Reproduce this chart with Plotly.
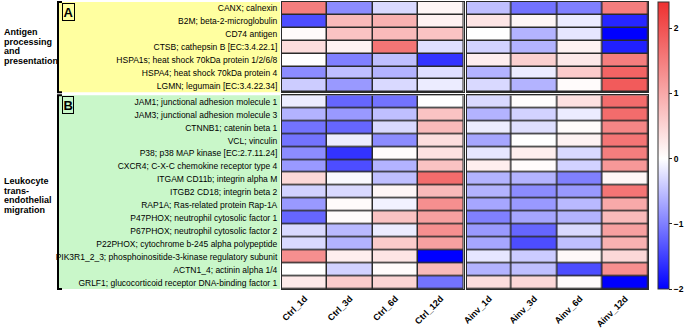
import plotly.graph_objects as go
from plotly.subplots import make_subplots

ctrl_cols = ["Ctrl_1d", "Ctrl_3d", "Ctrl_6d", "Ctrl_12d"]
ainv_cols = ["Ainv_1d", "Ainv_3d", "Ainv_6d", "Ainv_12d"]

genes_a = [
    "CANX; calnexin",
    "B2M; beta-2-microglobulin",
    "CD74 antigen",
    "CTSB; cathepsin B [EC:3.4.22.1]",
    "HSPA1s; heat shock 70kDa protein 1/2/6/8",
    "HSPA4; heat shock 70kDa protein 4",
    "LGMN; legumain [EC:3.4.22.34]",
]
genes_b = [
    "JAM1; junctional adhesion molecule 1",
    "JAM3; junctional adhesion molecule 3",
    "CTNNB1; catenin beta 1",
    "VCL; vinculin",
    "P38; p38 MAP kinase [EC:2.7.11.24]",
    "CXCR4; C-X-C chemokine receptor type 4",
    "ITGAM CD11b; integrin alpha M",
    "ITGB2 CD18; integrin beta 2",
    "RAP1A; Ras-related protein Rap-1A",
    "P47PHOX; neutrophil cytosolic factor 1",
    "P67PHOX; neutrophil cytosolic factor 2",
    "P22PHOX; cytochrome b-245 alpha polypeptide",
    "PIK3R1_2_3; phosphoinositide-3-kinase regulatory subunit",
    "ACTN1_4; actinin alpha 1/4",
    "GRLF1; glucocorticoid receptor DNA-binding factor 1",
]
group_a_lines = ["Antigen", "processing", "and", "presentation"]
group_b_lines = ["Leukocyte", "trans-", "endothelial", "migration"]

ctrl_a = [
    [1.5, -0.9, -0.3, 0.1],
    [-1.4, 0.8, 0.9, 0.15],
    [0.05, 0.7, 0.8, 0.7],
    [0.4, 0.15, 1.6, -0.25],
    [0.0, -1.0, -0.5, -1.6],
    [-0.9, -0.5, -0.6, -0.25],
    [-0.4, -0.8, -0.3, -0.15],
]
ainv_a = [
    [-0.5, -1.1, -1.0, 1.5],
    [0.3, 0.1, -0.15, -1.7],
    [0.0, -0.6, -0.2, -2.0],
    [-0.35, -0.6, 0.15, -1.75],
    [0.2, 0.55, 0.25, 1.5],
    [-0.6, -0.15, 0.6, 1.8],
    [-0.3, -0.6, 0.05, 1.9],
]
ctrl_b = [
    [-0.15, -1.2, -1.1, 0.0],
    [-0.6, -0.8, -0.5, 0.7],
    [-1.1, -1.2, -0.3, 0.8],
    [-1.1, -0.15, -0.9, 0.4],
    [-0.9, -1.6, 0.03, 0.35],
    [-0.8, -1.4, -0.6, 0.7],
    [0.45, -0.05, -0.5, 1.7],
    [-0.35, -0.3, 0.1, 0.8],
    [-0.8, 0.05, -0.1, 1.3],
    [-1.2, 0.05, 0.7, 1.1],
    [-0.3, -0.55, -0.15, 1.3],
    [-0.3, -0.6, 0.6, 1.1],
    [1.3, 0.2, 0.3, -2.0],
    [0.0, -0.35, 0.05, 0.8],
    [0.25, 0.6, 0.5, -1.1],
]
ainv_b = [
    [-0.3, 0.02, 0.35, 1.7],
    [-0.6, -0.35, -0.15, 1.7],
    [-0.15, -0.25, 0.05, 1.4],
    [-0.7, 0.0, 0.15, 1.6],
    [-0.2, 0.2, -0.3, 1.5],
    [0.2, 0.05, -0.35, 1.2],
    [-0.6, -0.6, -1.0, 0.1],
    [-0.6, -0.9, -0.8, 1.6],
    [-0.7, -0.8, -0.55, 1.0],
    [-1.0, -0.7, -0.6, 0.8],
    [-0.8, -1.2, -0.3, 1.1],
    [-0.7, -1.4, -0.5, 0.9],
    [-0.2, -0.4, 0.08, 0.45],
    [-0.6, -0.5, -1.4, 1.3],
    [0.4, 0.45, 0.05, -2.0],
]
cbar_ticks = [-2, -1, 0, 1, 2]

ZMIN, ZMAX = -2.0, 2.4
mid = (0 - ZMIN) / (ZMAX - ZMIN)

W, H = 685, 336
L, R, T, B = 282, 37, 2, 47
PW, PH = W - L - R, H - T - B

fig = make_subplots(rows=2, cols=2, row_heights=[7, 15],
                    horizontal_spacing=3 / PW, vertical_spacing=3 / PH)

for r, (genes, cz, az) in enumerate([(genes_a, ctrl_a, ainv_a), (genes_b, ctrl_b, ainv_b)], start=1):
    for c, (cols, z) in enumerate([(ctrl_cols, cz), (ainv_cols, az)], start=1):
        fig.add_trace(go.Heatmap(z=z, x=cols, y=genes, coloraxis="coloraxis",
                                 xgap=1.5, ygap=1.5, hoverinfo="skip"), row=r, col=c)

fig.update_layout(
    width=W, height=H,
    margin=dict(l=L, r=R, t=T, b=B, autoexpand=False),
    plot_bgcolor="#2a2a2a",
    paper_bgcolor="white",
    font=dict(family="Arial, Liberation Sans, sans-serif", color="black"),
    coloraxis=dict(
        cmin=ZMIN, cmax=ZMAX,
        colorscale=[[0, "rgb(0,0,255)"], [mid, "rgb(255,255,255)"], [1, "rgb(238,48,48)"]],
        colorbar=dict(x=1 + 10 / PW, xanchor="left", xpad=0, ypad=0,
                      y=0.5, yanchor="middle", len=1,
                      lenmode="fraction", thickness=11, tickvals=cbar_ticks,
                      ticks="outside", ticklen=3, tickwidth=1, tickcolor="#222",
                      outlinewidth=1, outlinecolor="#333",
                      tickfont=dict(size=8.5, family="Arial, Liberation Sans", weight="bold")),
    ),
)

axis_common = dict(showline=True, mirror=True, linecolor="#2a2a2a", linewidth=1,
                   showgrid=False, zeroline=False, automargin=False)
for r in (1, 2):
    for c in (1, 2):
        fig.update_xaxes(row=r, col=c, **axis_common,
                         showticklabels=(r == 2), tickangle=-45,
                         tickfont=dict(size=9, weight="bold"), ticks="")
        fig.update_yaxes(row=r, col=c, **axis_common, autorange="reversed",
                         showticklabels=(c == 1), ticks="",
                         tickfont=dict(size=8.5), ticklabelstandoff=2)

# background boxes for gene labels
x0 = (58 - L) / PW
x1 = -2 / PW
ya0, ya1 = fig.layout.yaxis.domain
yb0, yb1 = fig.layout.yaxis3.domain
fig.add_shape(type="rect", xref="paper", yref="paper", x0=x0, x1=x1, y0=ya0, y1=ya1,
              fillcolor="#FFFFA0", line=dict(width=0), layer="below")
fig.add_shape(type="rect", xref="paper", yref="paper", x0=x0, x1=x1, y0=yb0, y1=yb1,
              fillcolor="#C9F7C9", line=dict(width=0), layer="below")

# brackets
tick = 4 / PW
for y0, y1 in [(ya0, ya1), (yb0, yb1)]:
    fig.add_shape(type="path", xref="paper", yref="paper",
                  path=f"M {x0 + tick},{y1} L {x0},{y1} L {x0},{y0} L {x0 + tick},{y0}",
                  line=dict(color="black", width=2))

# A / B boxes
for letter, ytop in [("A", ya1), ("B", yb1)]:
    fig.add_annotation(xref="paper", yref="paper", x=x0 + 4 / PW, y=ytop - 1 / PH,
                       xanchor="left", yanchor="top", text=f"<b>{letter}</b>",
                       showarrow=False, font=dict(size=13, color="black"),
                       bordercolor="black", borderwidth=1, borderpad=0.5)

# group labels, one annotation per line
def add_lines(lines, y_first, step):
    for i, s in enumerate(lines):
        ypix = y_first + i * step
        fig.add_annotation(xref="paper", yref="paper", x=(2 - L) / PW,
                           y=1 - (ypix - T) / PH, xanchor="left", yanchor="middle",
                           showarrow=False, text=f"<b>{s}</b>",
                           font=dict(size=9, color="black"))

add_lines(group_a_lines, 32, 9.7)
add_lines(group_b_lines, 181, 9.5)

fig.write_html("out.html",
               config={"displayModeBar": False, "staticPlot": True},
               post_script="document.body.style.margin='0';document.body.style.overflow='hidden';")
